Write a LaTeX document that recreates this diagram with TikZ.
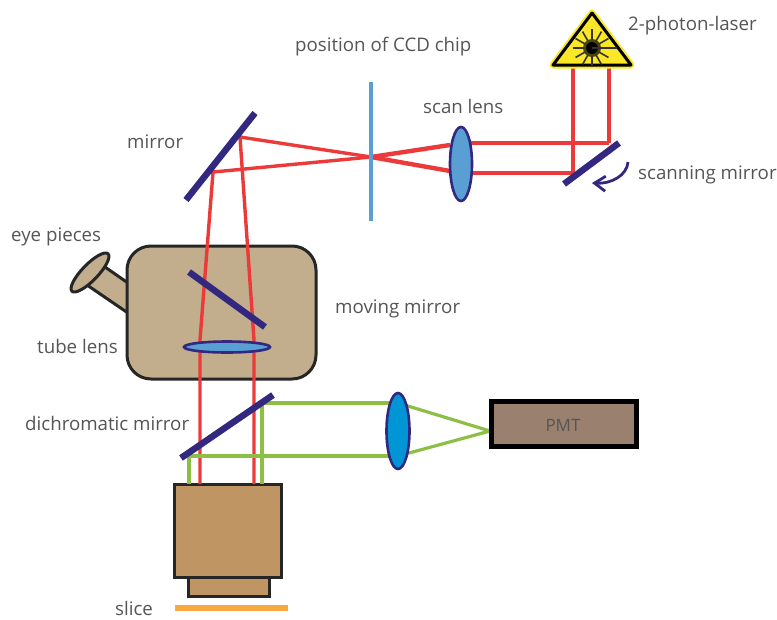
\documentclass[tikz,border=0pt]{standalone}
\usepackage{fontspec}
\setmainfont{Open Sans}
\usetikzlibrary{arrows.meta}
\definecolor{ray}{HTML}{EC3A3A}
\definecolor{gre}{HTML}{8DBF45}
\definecolor{mir}{HTML}{33287F}
\definecolor{lensblue}{HTML}{5A9FD4}
\definecolor{txt}{HTML}{555555}
\definecolor{tubec}{HTML}{C2AD8D}
\definecolor{objc}{HTML}{BE9563}
\definecolor{slicec}{HTML}{F8A83E}
\definecolor{pmtc}{HTML}{9A806E}
\definecolor{lens2}{HTML}{0096D6}
\definecolor{laserc}{HTML}{FAE828}
\tikzset{
 lab/.style={text=txt,font=\fontsize{18.7}{20}\selectfont,inner sep=0pt,anchor=base west},
 redray/.style={draw=ray,line width=3.4pt},
 redthick/.style={draw=ray,line width=4.4pt},
 greenray/.style={draw=gre,line width=3.2pt},
 mirrorbar/.style={draw=mir,line width=6.5pt},
 boxdark/.style={draw=black!85,line width=3pt},
 lensshape/.style={draw=mir,line width=2.6pt,fill=lensblue},
 solidbox/.style={boxdark,anchor=north west,inner sep=0pt,outer sep=0pt},
}
\begin{document}
\begin{tikzpicture}[x=1pt,y=-1pt]
\useasboundingbox (0,0) rectangle (777,619);
% coordinates
\coordinate (l1) at (573,68); \coordinate (l2) at (609,68);
\coordinate (s1) at (573,173); \coordinate (s2) at (609,143);
\coordinate (sl1) at (461,143); \coordinate (sl2) at (461,173);
\coordinate (sl1b) at (450,145); \coordinate (sl2b) at (450,171);
\coordinate (f) at (371,157);
\coordinate (m1) at (240,137); \coordinate (m2) at (213,172);
\coordinate (t1) at (200,340); \coordinate (t2) at (254,340);
\coordinate (o1) at (200,484); \coordinate (o2) at (254,484);
\coordinate (g1a) at (189,456); \coordinate (g1b) at (189,484);
\coordinate (g2a) at (262,403); \coordinate (g2b) at (262,484);
\coordinate (gl1) at (398,403); \coordinate (gl2) at (398,456);
\coordinate (pm) at (490,431);
% tube housing
\draw[boxdark,fill=tubec,line join=round]
  (128,283) -- (105,267) -- (87,285) -- (128,313) -- cycle;
\draw[boxdark,fill=tubec,rotate around={46:(90,272.5)}] (90,272.5) ellipse [x radius=26,y radius=8];
\node[solidbox,fill=tubec,rounded corners=24pt,minimum width=189pt,minimum height=133pt] (tube) at (127,246) {};
% objective
\node[solidbox,fill=objc,minimum width=107pt,minimum height=93pt] (obj) at (174.5,484.5) {};
\node[solidbox,fill=objc,minimum width=81pt,minimum height=18.5pt] (obj2) at (188.5,577.5) {};
\node[fill=slicec,minimum width=113pt,minimum height=6pt,anchor=west,inner sep=0pt,outer sep=0pt] (slice) at (175,608) {};
% rays
\draw[redray] (l1) -- (s1);
\draw[redray] (l2) -- (s2);
\draw[redray] (s2) -- (sl1);
\draw[redray] (s1) -- (sl2);
\draw[redthick] (sl1b) -- (f);
\draw[redthick] (sl2b) -- (f);
\draw[redray] (f) -- (m1);
\draw[redray] (f) -- (m2);
\draw[redray] (m2) -- (t1) -- (o1);
\draw[redray] (m1) -- (t2) -- (o2);
\draw[greenray] (g1a) -- (g1b);
\draw[greenray] (g2a) -- (g2b);
\draw[greenray] (g1a) -- (gl2);
\draw[greenray] (g2a) -- (gl1);
\draw[greenray] (gl1) -- (pm);
\draw[greenray] (gl2) -- (pm);
% CCD
\coordinate (c1) at (371,82); \coordinate (c2) at (371,221);
\draw[draw=lensblue,line width=4.5pt] (c1) -- (c2);
% mirrors
\coordinate (a1) at (186,200); \coordinate (a2) at (255,113);
\draw[mirrorbar] (a1) -- (a2);
\coordinate (b1) at (189,272); \coordinate (b2) at (265,327);
\draw[mirrorbar] (b1) -- (b2);
\coordinate (e1) at (181,458); \coordinate (e2) at (273,395);
\draw[mirrorbar] (e1) -- (e2);
\coordinate (h1) at (564,184); \coordinate (h2) at (619,143);
\draw[mirrorbar] (h1) -- (h2);
% scan arrow
\coordinate (q1) at (628,162); \coordinate (q2) at (592,183);
\draw[draw=mir,line width=2.8pt,-{Straight Barb[length=11pt,width=15pt]}] (q1) .. controls (627,175) and (612,184) .. (q2);
% lenses
\draw[lensshape] (461,164) ellipse [x radius=11,y radius=37];
\draw[lensshape,fill=lens2] (398,431) ellipse [x radius=11.5,y radius=38];
\draw[lensshape] (227,347) ellipse [x radius=43,y radius=5.5];
% PMT
\node[draw=black,line width=5pt,fill=pmtc,anchor=north west,inner sep=0pt,outer sep=0pt,minimum width=145pt,minimum height=45pt] (pmt) at (491,401) {};
\node[lab,font=\fontsize{17}{20}\selectfont,anchor=center] (pmtlab) at (563,425) {PMT};
% laser sign
\coordinate (ta) at (592,13); \coordinate (tb) at (553,65); \coordinate (tc) at (631,65);
\draw[draw=laserc,line width=7pt,fill=laserc,line join=round] (ta) -- (tb) -- (tc) -- cycle;
\draw[draw=black,line width=3pt,fill=laserc,line join=round] (ta) -- (tb) -- (tc) -- cycle;
\fill[black!70!laserc] (592,48) circle (9);
\fill[black] (592,48) circle (6);
\draw[black!80,line width=2pt] (592,48) -- (617,48);
\foreach \a in {0,30,...,330} \draw[black!80,line width=1.6pt] (592,48) ++(\a:8) -- ++(\a:11);
% labels
\node[lab] (n1) at (628,30) {2-photon-laser};
\node[lab] (n2) at (295,51) {position of CCD chip};
\node[lab] (n3) at (423,113) {scan lens};
\node[lab] (n4) at (127,148) {mirror};
\node[lab] (n5) at (638,179) {scanning mirror};
\node[lab] (n6) at (11,241) {eye pieces};
\node[lab] (n7) at (335,313) {moving mirror};
\node[lab] (n8) at (37,353) {tube lens};
\node[lab] (n9) at (25,430) {dichromatic mirror};
\node[lab] (n10) at (115,615) {slice};
\end{tikzpicture}
\end{document}
